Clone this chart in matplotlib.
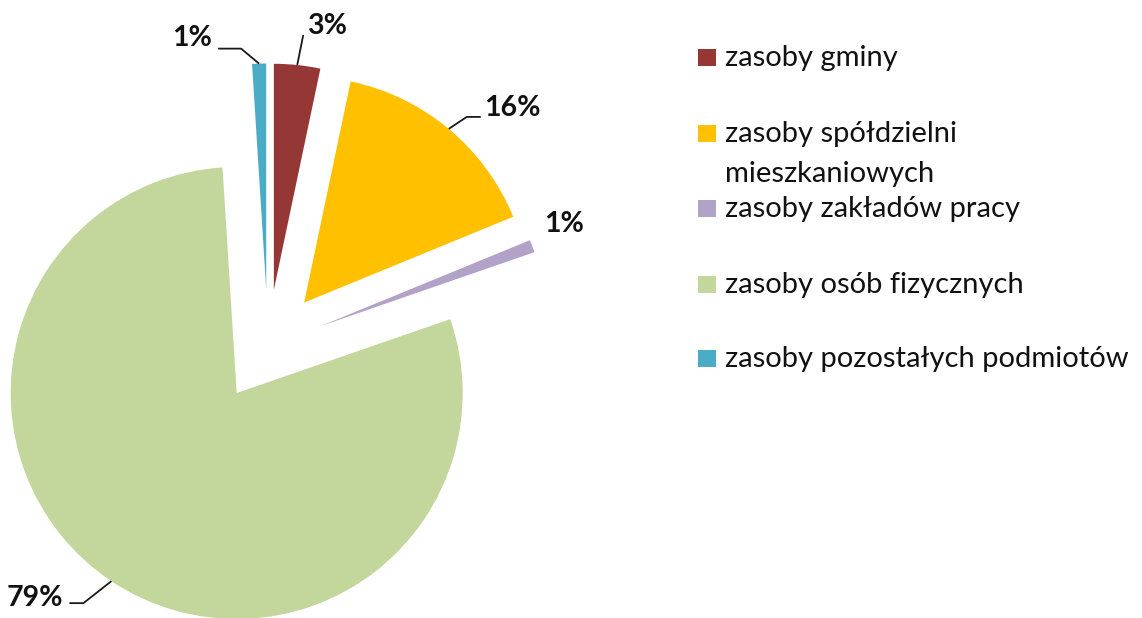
import matplotlib
matplotlib.use("Agg")
import matplotlib.pyplot as plt
from matplotlib.patches import Rectangle
import numpy as np

# shares of housing stock by owner (percent)
categories = ["zasoby gminy", "zasoby spółdzielni\nmieszkaniowych", "zasoby zakładów pracy",
              "zasoby osób fizycznych", "zasoby pozostałych podmiotów"]
shares = [3.3, 15.5, 0.9, 79.3, 1.0]
pct_labels = ["3%", "16%", "1%", "79%", "1%"]
colors = ["#953735", "#FFC000", "#B3A2C7", "#C3D69B", "#4BACC6"]

W, H = 1142, 618
FONT = "Lato"

fig = plt.figure(figsize=(W / 100, H / 100), dpi=100)
ax = fig.add_axes([0, 0, 1, 1])

radius = 226
wedges, _ = ax.pie(shares, colors=colors, startangle=90, counterclock=False,
                   explode=[0.25 * radius] * len(shares), radius=radius,
                   center=(268, 272), wedgeprops=dict(linewidth=0))
ax.set_xlim(0, W)
ax.set_ylim(0, H)
ax.set_aspect("auto")
ax.axis("off")

# leader line points and text position, relative to wedge arc midpoint (pixels)
leaders = [
    ([(0, 0), (6, 30)], (30, 39)),
    ([(0, 0), (18, 12), (32, 12)], (64, 21)),
    ([], (32, 22)),
    ([(0, 0), (-28, -22), (-42, -22)], (-77, -17)),
    ([(0, 0), (-18, 15), (-41, 15)], (-67, 26)),
]

for w, lab, (pts, tpos) in zip(wedges, pct_labels, leaders):
    th = np.deg2rad((w.theta1 + w.theta2) / 2)
    cx, cy = w.center
    x0 = cx + w.r * np.cos(th)
    y0 = cy + w.r * np.sin(th)
    if pts:
        ax.plot([x0 + p[0] for p in pts], [y0 + p[1] for p in pts],
                color="#1a1a1a", lw=1.3, solid_capstyle="butt")
    ax.text(x0 + tpos[0], y0 + tpos[1], lab, ha="center", va="center",
            fontsize=20.5, fontweight="bold", family=FONT, color="#111111")

# legend drawn by hand to keep the Excel-like layout
baselines = [66, 142, 217, 293, 367]
line_gap = 40
for cat, col, b in zip(categories, colors, baselines):
    ax.add_patch(Rectangle((698, H - b), 18, 17, facecolor=col, edgecolor="none"))
    for i, line in enumerate(cat.split("\n")):
        ax.text(725, H - b - i * line_gap, line, ha="left", va="baseline",
                fontsize=21, family=FONT, color="#111111")

fig.savefig("out.png", dpi=100)
